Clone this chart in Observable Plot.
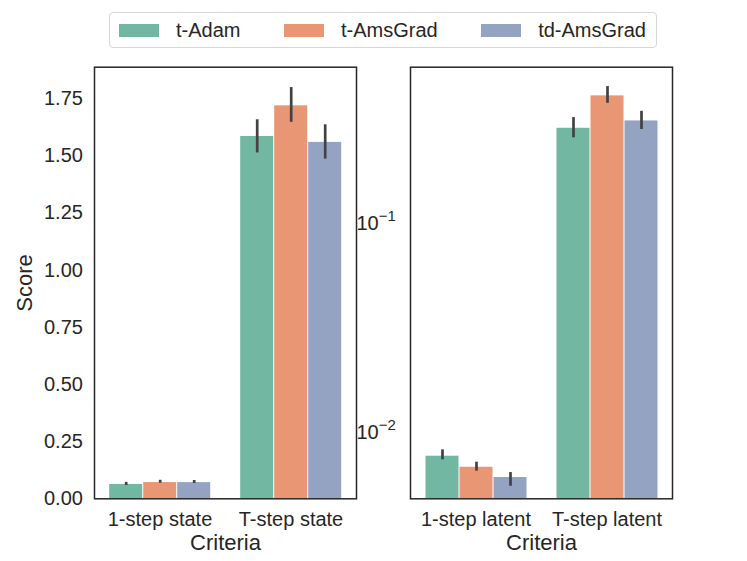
<!DOCTYPE html>
<html>
<head>
<meta charset="utf-8">
<script src="https://cdn.jsdelivr.net/npm/d3@7"></script>
<script src="https://cdn.jsdelivr.net/npm/@observablehq/plot@0.6"></script>
<style>
  html, body { margin: 0; padding: 0; background: #fff; }
  #fig { position: relative; width: 747px; height: 561px; overflow: hidden; font-family: "Liberation Sans", Arial, sans-serif; color: #262626; }
  #fig svg { position: absolute; top: 0; background: transparent; }
  #legend { position: absolute; left: 109px; top: 12px; width: 548px; height: 36px; border: 1px solid #d6d6d6; border-radius: 4px; box-sizing: border-box; display: flex; align-items: center; padding-left: 9px; font-size: 20px; z-index: 5; background: #fff; overflow: visible; }
  #legend .sw { flex: 0 0 40px; width: 40px; height: 13px; margin-right: 17px; }
  #legend .lb { flex: 0 0 auto; margin-right: 43.5px; white-space: nowrap; }
</style>
</head>
<body>
<div id="fig"></div>
<script>
// ---- data ----
const optimizers = ["t-Adam", "t-AmsGrad", "td-AmsGrad"];
const colors = ["#72b7a1", "#e99675", "#95a3c3"];

const stateCriteria = ["1-step state", "T-step state"];
const state1Mean = [0.063, 0.071, 0.071];
const state1Lo   = [0.058, 0.068, 0.067];
const state1Hi   = [0.072, 0.081, 0.080];
const stateTMean = [1.585, 1.719, 1.559];
const stateTLo   = [1.513, 1.647, 1.486];
const stateTHi   = [1.658, 1.799, 1.636];

const latentCriteria = ["1-step latent", "T-step latent"];
const latent1Mean = [0.00767, 0.00679, 0.00606];
const latent1Lo   = [0.00737, 0.00650, 0.00550];
const latent1Hi   = [0.00823, 0.00718, 0.00640];
const latentTMean = [0.2877, 0.4116, 0.3120];
const latentTLo   = [0.2588, 0.3790, 0.2837];
const latentTHi   = [0.3238, 0.4560, 0.3470];

const stateTicks = [0, 0.25, 0.5, 0.75, 1.0, 1.25, 1.5, 1.75];
const stateDomain = [0, 1.888];
const latentTicks = [0.01, 0.1];
const latentDomain = [0.00479, 0.565];

// ---- build tables ----
function table(criteria, groups) {
  const rows = [];
  criteria.forEach((c, ci) => {
    const [m, lo, hi] = groups[ci];
    optimizers.forEach((o, oi) => rows.push({criteria: c, optimizer: o, score: m[oi], lo: lo[oi], hi: hi[oi]}));
  });
  return rows;
}
const stateData = table(stateCriteria, [[state1Mean, state1Lo, state1Hi], [stateTMean, stateTLo, stateTHi]]);
const latentData = table(latentCriteria, [[latent1Mean, latent1Lo, latent1Hi], [latentTMean, latentTLo, latentTHi]]);

const font = "'Liberation Sans', Arial, sans-serif";
const common = {
  height: 561, marginTop: 66.7, marginBottom: 62.7,
  style: {fontFamily: font, fontSize: "20px", color: "#262626", background: "transparent", overflow: "visible"},
  x: {domain: optimizers, paddingInner: 0, paddingOuter: 0.375, axis: null},
  color: {domain: optimizers, range: colors}
};

const left = Plot.plot({
  ...common,
  width: 358, marginLeft: 93.3, marginRight: 1.3,
  fx: {domain: stateCriteria, padding: 0},
  y: {domain: stateDomain},
  marks: [
    Plot.barY(stateData, {fx: "criteria", x: "optimizer", y: "score", fill: "optimizer", insetLeft: 0.5, insetRight: 0.5}),
    Plot.ruleX(stateData, {fx: "criteria", x: "optimizer", y1: "lo", y2: "hi", stroke: "#424242", strokeWidth: 2.7}),
    Plot.axisY({ticks: stateTicks, tickSize: 0, tickPadding: 11.6, tickFormat: d3.format(".2f"), label: "Score", labelAnchor: "center", labelArrow: "none", labelOffset: 78}),
    Plot.axisFx({anchor: "bottom", tickSize: 0, tickPadding: 12.7, label: "Criteria", labelAnchor: "center", labelArrow: "none", labelOffset: 51}),
    Plot.frame({facet: "super", stroke: "#262626", strokeWidth: 1.5})
  ]
});

const right = Plot.plot({
  ...common,
  width: 407, marginLeft: 69, marginRight: 74.7,
  fx: {domain: latentCriteria, padding: 0},
  y: {type: "log", domain: latentDomain},
  marks: [
    Plot.barY(latentData, {fx: "criteria", x: "optimizer", y1: latentDomain[0], y2: "score", fill: "optimizer", insetLeft: 0.5, insetRight: 0.5}),
    Plot.ruleX(latentData, {fx: "criteria", x: "optimizer", y1: "lo", y2: "hi", stroke: "#424242", strokeWidth: 2.7}),
    Plot.axisY({ticks: latentTicks, tickSize: 0, tickPadding: 14.7, tickFormat: d => "10^" + Math.round(Math.log10(d)), label: null}),
    Plot.axisFx({anchor: "bottom", tickSize: 0, tickPadding: 12.7, label: "Criteria", labelAnchor: "center", labelArrow: "none", labelOffset: 51}),
    Plot.frame({facet: "super", stroke: "#262626", strokeWidth: 1.5})
  ]
});

const fig = document.getElementById("fig");
left.style.left = "0px";
right.style.left = "340px";
fig.appendChild(left);
fig.appendChild(right);

// label font sizes
for (const svg of [left, right]) {
  d3.select(svg).selectAll('g[aria-label$="axis label"] text').style("font-size", "22px");
}
// superscript exponents on the log axis
d3.select(right).selectAll('g[aria-label="y-axis tick label"] text').each(function() {
  const t = this.textContent;
  const m = /^10\^(-?\d+)$/.exec(t);
  if (!m) return;
  const sel = d3.select(this);
  sel.text("");
  sel.append("tspan").style("font-size", "20px").text("10");
  sel.append("tspan").attr("dy", "-0.6em").style("font-size", "15px").text(m[1].replace("-", "\u2212"));
});

// legend
const legend = document.createElement("div");
legend.id = "legend";
optimizers.forEach((o, i) => {
  const sw = document.createElement("span"); sw.className = "sw"; sw.style.background = colors[i];
  const lb = document.createElement("span"); lb.className = "lb"; lb.textContent = o;
  legend.appendChild(sw); legend.appendChild(lb);
});
fig.appendChild(legend);
</script>
</body>
</html>
